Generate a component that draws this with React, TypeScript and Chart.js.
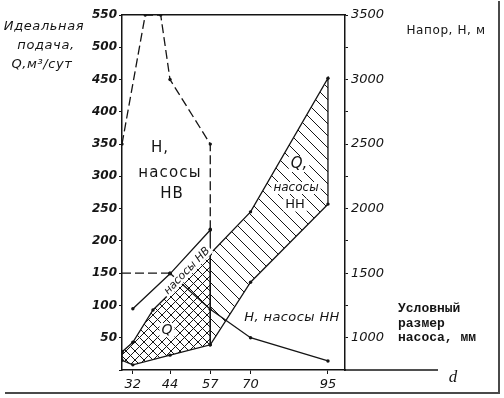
import React, { useEffect, useRef } from 'react';
import { Chart, registerables } from 'chart.js';
Chart.register(...registerables);

// Условный размер насоса d, мм (x tick labels)
const sizes = [32, 44, 57, 70, 95];
// Left axis: идеальная подача Q, м3/сут
const qTicks = [0, 50, 100, 150, 200, 250, 300, 350, 400, 450, 500, 550];
// Right axis: напор H, м (labels every 500, marks every 250)
const hTicks = [1000, 1250, 1500, 1750, 2000, 2250, 2500, 2750, 3000, 3250, 3500];

// H, насосы НВ (dashed)
const hNvUpperD = [28.5, 36, 41, 44, 57, 57];
const hNvUpperH = [2500, 3500, 3500, 3000, 2500, 1840];
const hNvLowerD = [28.5, 44];
const hNvLowerH = [1500, 1500];

// H, насосы НН (solid)
const hNnD = [44, 57, 70, 95];
const hNnH = [1500, 1220, 1000, 820];

// Q, насосы НН (hatched region)
const qNnUpperD = [57, 70, 95];
const qNnUpperQ = [180, 245, 452];
const qNnLowerD = [57, 70, 95];
const qNnLowerQ = [39, 136, 257];

// Q, насосы НВ (cross-hatched region)
const qNvUpperD = [28.5, 32, 38.5, 57];
const qNvUpperQ = [28, 43, 93, 180];
const qNvLowerD = [28.5, 32, 44, 57];
const qNvLowerQ = [15, 8, 23, 39];

// band "насосы НВ" upper edge (Q max)
const bandD = [32, 44, 57, 57];
const bandQ = [95, 149, 217, 180];

const pts = (xs: number[], ys: number[]) => xs.map((x, i) => ({ x, y: ys[i] }));
const polygon = (ux: number[], uy: number[], lx: number[], ly: number[]) => {
  const up = pts(ux, uy);
  const lo = pts(lx, ly).reverse();
  return [...up, ...lo, up[0]];
};

function hatch(size: number, cross: boolean) {
  const c = document.createElement('canvas');
  c.width = size;
  c.height = size;
  const g = c.getContext('2d')!;
  g.strokeStyle = '#151515';
  g.lineWidth = 1;
  g.beginPath();
  for (const k of [-1, 0, 1]) {
    g.moveTo(k * size, 0);
    g.lineTo(k * size + size, size);
    if (cross) {
      g.moveTo(k * size, size);
      g.lineTo(k * size + size, 0);
    }
  }
  g.stroke();
  return g.createPattern(c, 'repeat')!;
}

const INK = '#141414';

export default function App() {
  const ref = useRef<HTMLCanvasElement>(null);
  useEffect(() => {
    const canvas = ref.current!;
    const deco = {
      id: 'deco',
      afterDraw(chart: any) {
        const ctx: CanvasRenderingContext2D = chart.ctx;
        const a = chart.chartArea;
        ctx.save();
        ctx.strokeStyle = INK;
        ctx.lineWidth = 1.5;
        ctx.beginPath();
        ctx.moveTo(a.right, a.bottom);
        ctx.lineTo(438, a.bottom);
        ctx.stroke();
        ctx.strokeStyle = '#4a4a4a';
        ctx.lineWidth = 2;
        ctx.beginPath();
        ctx.moveTo(5, 393);
        ctx.lineTo(499, 393);
        ctx.lineTo(499, 1);
        ctx.stroke();

        const t = (s: string, x: number, y: number, font: string, opts: any = {}) => {
          ctx.save();
          ctx.font = font;
          (ctx as any).letterSpacing = opts.ls || '0px';
          ctx.translate(x, y);
          if (opts.rot) ctx.rotate(opts.rot);
          ctx.textAlign = opts.align || 'center';
          ctx.textBaseline = 'middle';
          if (opts.bg) {
            const w = ctx.measureText(s).width;
            const h = opts.bgH || 14;
            ctx.fillStyle = '#fff';
            const x0 = ctx.textAlign === 'left' ? 0 : -w / 2;
            ctx.fillRect(x0 - 2, -h / 2, w + 4, h);
          }
          ctx.fillStyle = INK;
          ctx.fillText(s, 0, 0);
          ctx.restore();
        };
        const it = (n: number) => `italic ${n}px "DejaVu Sans"`;
        const up = (n: number) => `${n}px "DejaVu Sans"`;
        // axis titles
        t('Идеальная', 44, 27, it(13), { ls: '0.6px' });
        t('подача,', 46, 46, it(13), { ls: '0.6px' });
        t('Q,м³/сут', 42, 65, it(13), { ls: '0.6px' });
        t('Напор, Н, м', 446, 31, up(12), { ls: '0.6px' });
        const mono = 'bold 13px "Liberation Mono"';
        t('Условный', 398, 309, mono, { align: 'left' });
        t('размер', 398, 324, mono, { align: 'left' });
        t('насоса, мм', 398, 338, mono, { align: 'left' });
        t('d', 453, 378, 'italic 17px "Liberation Serif"');
        // in-plot labels
        t('Н,', 160, 148, up(15), { ls: '1px' });
        t('насосы', 170, 173, up(15), { ls: '1.2px' });
        t('НВ', 172, 194, up(15), { ls: '1px' });
        t('Q,', 299, 164, it(15), { bg: true, bgH: 16 });
        t('насосы', 296, 188, it(12), { bg: true, bgH: 12 });
        t('НН', 295, 205, up(13), { bg: true, bgH: 13 });
        t('Q', 167, 330, it(14), { bg: true, bgH: 14 });
        t('насосы НВ', 187, 271, it(11), { rot: -0.8, bg: true, bgH: 11 });
        t('Н, насосы НН', 292, 318, it(13), { ls: '0.4px' });
        ctx.restore();
      },
    };

    const lineBase = {
      borderColor: INK,
      borderWidth: 1.3,
      pointRadius: 1.7,
      pointBackgroundColor: INK,
      pointBorderWidth: 0,
      tension: 0,
    };

    const chart = new Chart(canvas, {
      type: 'line',
      data: {
        datasets: [
          { ...lineBase, data: pts(hNnD, hNnH), yAxisID: 'yH', fill: false },
          { ...lineBase, data: pts(hNvUpperD, hNvUpperH), yAxisID: 'yH', borderDash: [9, 4], fill: false },
          { ...lineBase, data: pts(hNvLowerD, hNvLowerH), yAxisID: 'yH', borderDash: [9, 4], fill: false, pointRadius: [0, 1.7] },
          { ...lineBase, data: pts(bandD, bandQ), yAxisID: 'yQ', fill: false },
          {
            ...lineBase,
            data: polygon(qNnUpperD, qNnUpperQ, qNnLowerD, qNnLowerQ),
            yAxisID: 'yQ',
            fill: 'shape',
            backgroundColor: hatch(12, false),
          },
          {
            ...lineBase,
            data: polygon(qNvUpperD, qNvUpperQ, qNvLowerD, qNvLowerQ),
            yAxisID: 'yQ',
            fill: 'shape',
            backgroundColor: hatch(9, true),
          },
        ] as any,
      },
      options: {
        responsive: false,
        animation: false,
        devicePixelRatio: 1,
        layout: { padding: 0 },
        plugins: { legend: { display: false }, tooltip: { enabled: false } },
        scales: {
          x: {
            type: 'linear',
            position: 'bottom',
            min: 28.5,
            max: 100.5,
            afterBuildTicks: (s: any) => {
              s.ticks = sizes.map((v) => ({ value: v }));
            },
            afterFit: (s: any) => {
              s.height = 28;
            },
            ticks: {
              autoSkip: false,
              maxRotation: 0,
              padding: 3,
              color: INK,
              font: { family: 'DejaVu Sans', size: 13, style: 'italic' },
              callback: (v: any) => String(v),
            },
            grid: { drawOnChartArea: false, tickLength: 4, color: INK },
            border: { color: INK, width: 1.5 },
          },
          xTop: {
            type: 'linear',
            position: 'top',
            min: 28.5,
            max: 100.5,
            afterFit: (s: any) => {
              s.height = 15;
            },
            ticks: { display: false },
            grid: { display: false },
            border: { color: INK, width: 1.5 },
          },
          yQ: {
            type: 'linear',
            position: 'left',
            min: 0,
            max: 550,
            afterBuildTicks: (s: any) => {
              s.ticks = qTicks.map((v) => ({ value: v }));
            },
            afterFit: (s: any) => {
              s.width = 122;
            },
            ticks: {
              padding: 2,
              color: INK,
              font: { family: 'DejaVu Sans', size: 12, style: 'italic', weight: 'bold' },
              callback: (v: any) => (v === 0 ? '' : String(v)),
            },
            grid: { drawOnChartArea: false, tickLength: 3, color: INK },
            border: { color: INK, width: 1.5 },
          },
          yH: {
            type: 'linear',
            position: 'right',
            min: 750,
            max: 3500,
            afterBuildTicks: (s: any) => {
              s.ticks = hTicks.map((v) => ({ value: v }));
            },
            afterFit: (s: any) => {
              s.width = 159;
            },
            ticks: {
              padding: 3,
              color: INK,
              font: { family: 'DejaVu Sans', size: 13, style: 'italic' },
              callback: (v: any) => (v % 500 === 0 ? String(v) : ''),
            },
            grid: { drawOnChartArea: false, tickLength: 3, color: INK },
            border: { color: INK, width: 1.5 },
          },
        } as any,
      },
      plugins: [deco],
    });
    return () => chart.destroy();
  }, []);

  return (
    <div style={{ position: 'fixed', left: 0, top: 0, width: 504, height: 398, background: '#fff' }}>
      <canvas ref={ref} width={504} height={398} style={{ display: 'block' }} />
    </div>
  );
}
